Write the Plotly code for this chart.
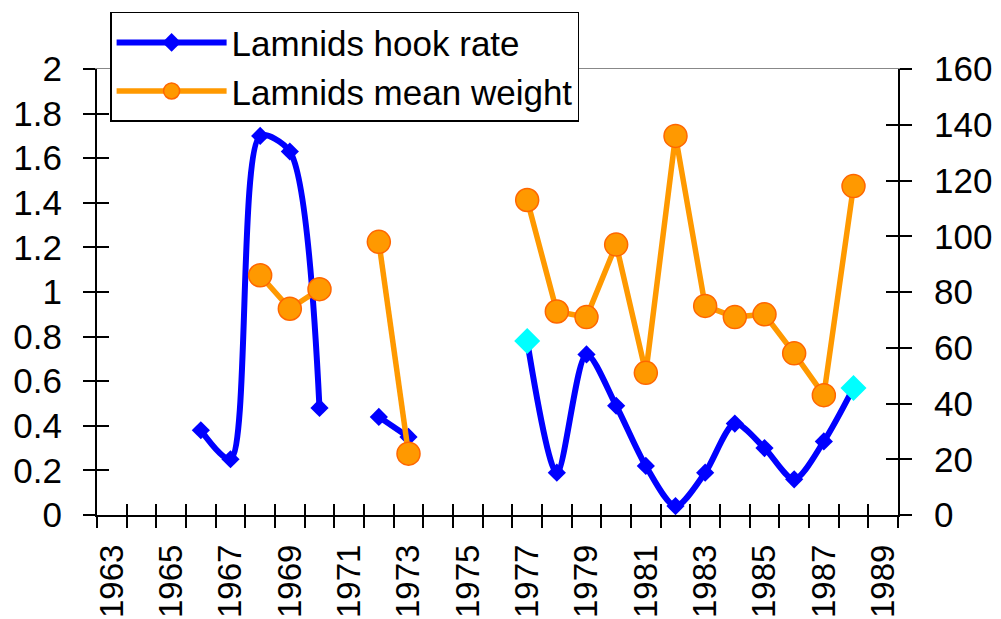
import plotly.graph_objects as go

# category axis: one slot per year
years = list(range(1963, 1990))
label_years = years[::2]

# Lamnids hook rate (left axis), None = no data
hook_rate = [None, None, None, 0.38, 0.25, 1.70, 1.63, 0.48, None, 0.44, 0.35,
             None, None, None, 0.78, 0.19, 0.72, 0.49, 0.22, 0.04, 0.19, 0.41,
             0.30, 0.16, 0.33, 0.57, None]

# Lamnids mean weight (right axis)
mean_weight = [None, None, None, None, None, 86, 74, 81, None, 98, 22,
               None, None, None, 113, 73, 71, 97, 51, 136, 75, 71,
               72, 58, 43, 118, None]

# first and last points of the later series are highlighted in cyan
highlight_years = [1977, 1988]

FONT = "Liberation Sans, Arial, sans-serif"
BLUE = "#0000FF"
CYAN = "#00FFFF"
ORANGE = "#FF9900"

hook_colors = [CYAN if y in highlight_years else BLUE for y in years]
hook_sizes = [20 if y in highlight_years else 14 for y in years]

fig = go.Figure()
fig.add_trace(go.Scatter(
    x=years, y=hook_rate, name="Lamnids hook rate",
    mode="lines+markers",
    line=dict(color=BLUE, width=6, shape="spline", smoothing=0.8),
    marker=dict(symbol="diamond", color=hook_colors, size=hook_sizes, opacity=1,
                line=dict(width=0)),
    connectgaps=False,
))
fig.add_trace(go.Scatter(
    x=years, y=mean_weight, name="Lamnids mean weight",
    mode="lines+markers", yaxis="y2",
    line=dict(color=ORANGE, width=5.5),
    marker=dict(symbol="circle", color=ORANGE, size=23, opacity=1,
                line=dict(color="#FF6600", width=1.5)),
    connectgaps=False,
))

# empty traces so the helper axes (cross ticks, top frame) get drawn
for xa, ya in [("x3", "y"), ("x4", "y"), ("x5", "y"), ("x", "y3"), ("x", "y4")]:
    fig.add_trace(go.Scatter(x=[None], y=[None], xaxis=xa, yaxis=ya,
                             showlegend=False, hoverinfo="skip"))

xr = [years[0] - 0.5, years[-1] + 0.5]
boundaries = [y - 0.5 for y in years] + [years[-1] + 0.5]
tick_font = dict(family=FONT, size=35, color="black")

fig.update_layout(
    width=1001, height=619,
    paper_bgcolor="white", plot_bgcolor="white",
    margin=dict(l=89, r=111, t=61, b=112, autoexpand=False),
    font=dict(family=FONT, size=35, color="black"),
    showlegend=True,
    legend=dict(
        xref="container", yref="container",
        x=0.102, y=0.994, xanchor="left", yanchor="top",
        bgcolor="white", bordercolor="black", borderwidth=1.5,
        font=dict(family=FONT, size=35, color="black"),
        itemwidth=110, tracegroupgap=0,
    ),
    # labels only
    xaxis=dict(
        range=xr, tickvals=label_years, ticktext=[str(y) for y in label_years],
        tickangle=-90, ticks="", showline=False, showgrid=False, zeroline=False,
        tickfont=dict(family=FONT, size=33, color="black"),
        ticklabelstandoff=22, automargin=False,
    ),
    # outside ticks between categories + axis line
    xaxis3=dict(
        overlaying="x", anchor="y", side="bottom", range=xr, tickvals=boundaries,
        showticklabels=False, ticks="outside", ticklen=11, tickwidth=2, tickcolor="black",
        showline=True, linecolor="black", linewidth=2, showgrid=False, zeroline=False,
        automargin=False,
    ),
    # inside ticks (cross ticks)
    xaxis4=dict(
        overlaying="x", anchor="y", side="bottom", range=xr, tickvals=boundaries,
        showticklabels=False, ticks="inside", ticklen=11, tickwidth=2, tickcolor="black",
        showline=False, showgrid=False, zeroline=False, automargin=False,
    ),
    # thin top frame
    xaxis5=dict(
        overlaying="x", anchor="y", side="top", range=xr, showticklabels=False, ticks="",
        showline=True, linecolor="#888888", linewidth=1, showgrid=False, zeroline=False,
        automargin=False,
    ),
    yaxis=dict(
        range=[0, 2], tick0=0, dtick=0.2, ticks="outside", ticklen=12, tickwidth=2,
        tickcolor="black", showline=True, linecolor="black", linewidth=2,
        showgrid=False, zeroline=False, tickfont=tick_font, ticklabelstandoff=14,
        automargin=False,
    ),
    yaxis3=dict(
        overlaying="y", side="left", range=[0, 2], tick0=0, dtick=0.2,
        ticks="inside", ticklen=12, tickwidth=2, tickcolor="black",
        showticklabels=False, showline=False, showgrid=False, zeroline=False,
        automargin=False,
    ),
    yaxis2=dict(
        overlaying="y", side="right", range=[0, 160], tick0=0, dtick=20,
        ticks="outside", ticklen=12, tickwidth=2, tickcolor="black",
        showline=True, linecolor="black", linewidth=2,
        showgrid=False, zeroline=False, tickfont=tick_font, ticklabelstandoff=15,
        automargin=False,
    ),
    yaxis4=dict(
        overlaying="y", side="right", range=[0, 160], tick0=0, dtick=20,
        ticks="inside", ticklen=12, tickwidth=2, tickcolor="black",
        showticklabels=False, showline=False, showgrid=False, zeroline=False,
        automargin=False,
    ),
)

fig.write_html("out.html")
